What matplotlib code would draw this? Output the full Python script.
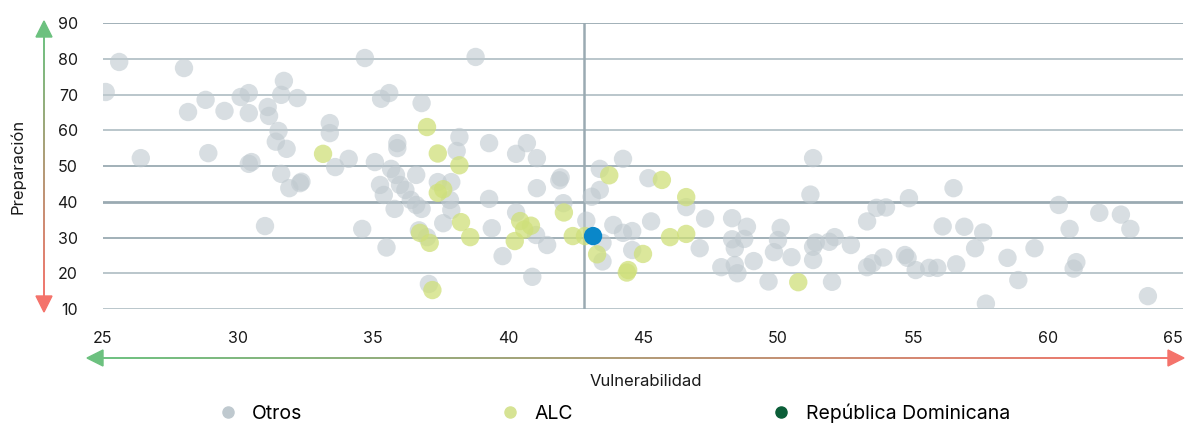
"""Vulnerabilidad vs Preparación scatter, República Dominicana highlighted."""

import numpy as np
from matplotlib import pyplot as plt
from matplotlib.collections import LineCollection
from matplotlib.colors import to_rgb
from matplotlib.lines import Line2D
from matplotlib.patches import Polygon

plt.rcParams['font.family'] = ['Inter', 'DejaVu Sans']

# Otros (resto del mundo)
otros_x = [25.1, 25.6, 26.4, 28.0, 28.15, 28.8, 28.9, 29.5, 30.1, 30.4, 30.4, 30.5, 30.4, 31.0,
           31.1, 31.15, 31.4, 31.5, 31.6, 31.6, 31.7, 31.8, 31.9, 32.2, 32.3, 32.35,
           33.4, 33.4, 33.6, 34.1, 34.6, 34.7, 35.07, 35.26, 35.4, 35.3, 35.5, 35.6, 35.67,
           35.85, 35.8, 35.9, 35.9, 36.0, 36.2, 36.4, 36.6, 36.6, 36.7, 36.8, 36.8, 37.0,
           37.07, 37.4, 37.6, 37.9, 37.85, 37.9, 38.1, 38.2, 38.8, 39.3, 39.3, 39.4, 39.8,
           40.3, 40.3, 40.7, 40.9, 41.04, 41.07, 41.07, 41.45, 41.9, 41.95, 42.05, 42.9,
           43.1, 43.4, 43.4, 43.5, 43.5, 43.9, 44.26, 44.26, 44.6, 44.6, 45.2, 45.3, 46.6,
           47.1, 47.3, 47.9, 48.3, 48.3, 48.4, 48.4, 48.5, 48.85, 48.75, 49.1, 49.65, 49.85,
           50.0, 50.1, 50.5, 51.2, 51.3, 51.3, 51.3, 51.4, 51.9, 52.1, 52.0, 52.7, 53.3,
           53.3, 53.5, 53.65, 53.9, 54.0, 54.7, 54.8, 54.85, 55.1, 55.6, 55.9, 56.1, 56.5,
           56.6, 56.9, 57.3, 57.6, 57.7, 58.5, 58.9, 59.5, 60.4, 60.8, 60.95, 61.05, 61.9,
           62.7, 63.05, 63.7]
otros_y = [70.7, 79.1, 52.2, 77.4, 65.1, 68.5, 53.6, 65.4, 69.3, 70.4, 64.8, 51.1, 50.6, 33.2,
           66.5, 64.0, 56.8, 59.8, 47.8, 69.9, 73.8, 54.8, 43.8, 69.0, 45.2, 45.6,
           62.0, 59.2, 49.7, 52.0, 32.4, 80.2, 51.1, 44.7, 41.9, 68.8, 27.2, 70.4, 49.2,
           47.5, 38.0, 56.4, 55.0, 44.7, 43.3, 40.5, 39.1, 47.5, 32.0, 38.0, 67.6, 30.1,
           17.0, 45.5, 34.0, 45.5, 40.5, 37.7, 54.2, 58.1, 80.5, 56.4, 40.8, 32.6, 24.8,
           53.4, 37.0, 56.4, 19.0, 30.7, 52.2, 43.8, 27.9, 46.0, 46.8, 39.6, 34.7,
           41.4, 43.3, 49.2, 28.5, 23.3, 33.5, 52.0, 31.3, 31.8, 26.5, 46.6, 34.5, 38.5,
           27.0, 35.3, 21.7, 35.4, 29.5, 27.0, 22.3, 20.0, 33.0, 29.6, 23.4, 17.7, 25.9,
           29.3, 32.7, 24.5, 42.0, 52.2, 23.7, 27.4, 28.6, 28.8, 30.1, 17.6, 27.9, 34.5,
           21.7, 22.8, 38.3, 24.4, 38.4, 25.1, 24.3, 41.0, 20.9, 21.5, 21.5, 33.1, 43.8,
           22.5, 33.0, 27.0, 31.4, 11.5, 24.3, 18.1, 27.0, 39.1, 32.4, 21.3, 23.1, 36.9,
           36.4, 32.4, 13.6]

# ALC (América Latina y el Caribe)
alc_x = [33.15, 37.0, 37.4, 38.2, 37.6, 37.4, 38.26, 38.6, 36.74, 37.1, 37.2, 40.45, 40.85,
         40.6, 40.25, 42.07, 42.4, 42.85, 43.3, 43.75, 44.4, 44.45, 45.0, 45.7, 46.0, 46.6,
         46.6, 50.75]
alc_y = [53.4, 60.9, 53.5, 50.2, 43.5, 42.5, 34.3, 30.1, 31.3, 28.5, 15.3, 34.6, 33.3,
         32.2, 29.0, 37.0, 30.4, 30.4, 25.3, 47.4, 20.2, 20.9, 25.4, 46.1, 30.1, 31.0,
         41.3, 17.5]

# República Dominicana
rd_x = [43.15]
rd_y = [30.4]

x_ticks = [25, 30, 35, 40, 45, 50, 55, 60, 65]
y_ticks = [10, 20, 30, 40, 50, 60, 70, 80, 90]
ref_x = 42.8
ref_y = 40

GREY = '#bfc9cf'
LIME = '#cfe07a'
BLUE = '#0a87c9'
DARK_GREEN = '#0b5e38'
GREEN = '#6cc17f'
RED = '#f4736b'

W, H = 1185, 423
fig = plt.figure(figsize=(W / 100, H / 100), dpi=100)
ax = fig.add_axes([103 / W, 1 - 309 / H, 1080 / W, 286 / H])

for yv in y_ticks:
    lw = 2.0 if yv == ref_y else 1.3
    col = '#9aaab2' if yv in (90, 50, 40, 30) else '#b4c1c7'
    ax.axhline(yv, color=col, lw=lw, zorder=1)
ax.axvline(ref_x, color='#9aaab2', lw=1.8, zorder=1)

ax.scatter(otros_x, otros_y, s=175, color=GREY, alpha=0.6, edgecolors='none', zorder=2)
ax.scatter(alc_x, alc_y, s=175, color=LIME, alpha=0.75, edgecolors='none', zorder=3)
ax.scatter(rd_x, rd_y, s=175, color=BLUE, edgecolors='none', zorder=4)

ax.set_xlim(25, 65)
ax.set_ylim(10, 90)
ax.set_xticks(x_ticks)
ax.set_yticks(y_ticks)
ax.tick_params(length=0, labelsize=11.5, colors='#1a1a1a')
ax.tick_params(axis='x', pad=16)
ax.tick_params(axis='y', pad=18)
ax.get_xticklabels()[-1].set_horizontalalignment('right')
for side in ax.spines.values():
    side.set_visible(False)

# overlay in pixel coordinates for the gradient arrows and axis titles
ov = fig.add_axes([0, 0, 1, 1], zorder=-1)
ov.set_xlim(0, W)
ov.set_ylim(H, 0)
ov.axis('off')


def gradient_line(x0, y0, x1, y1, c0, c1, n=200):
    xs = np.linspace(x0, x1, n)
    ys = np.linspace(y0, y1, n)
    pts = np.column_stack([xs, ys]).reshape(-1, 1, 2)
    segs = np.concatenate([pts[:-1], pts[1:]], axis=1)
    a, b = np.array(to_rgb(c0)), np.array(to_rgb(c1))
    t = np.linspace(0, 1, n - 1)[:, None]
    cols = a + (b - a) * t
    ov.add_collection(LineCollection(segs, colors=cols, linewidths=1.4))


# vertical arrow (Preparación)
gradient_line(44, 34, 44, 298, GREEN, RED)
ov.add_patch(Polygon([[36, 37], [52, 37], [44, 21]], closed=True, color=GREEN))
ov.add_patch(Polygon([[36, 296], [52, 296], [44, 312]], closed=True, color=RED))
# horizontal arrow (Vulnerabilidad)
gradient_line(100, 358, 1170, 358, GREEN, RED)
ov.add_patch(Polygon([[103, 350], [103, 366], [87, 358]], closed=True, color=GREEN))
ov.add_patch(Polygon([[1168, 350], [1168, 366], [1184, 358]], closed=True, color=RED))

ov.text(18, 166, 'Preparación', rotation=90, ha='center', va='center', fontsize=12, color='#1a1a1a')
ov.text(646, 382, 'Vulnerabilidad', ha='center', va='center', fontsize=12, color='#1a1a1a')

handles = [
    Line2D([], [], marker='o', ls='none', color=GREY, markersize=8),
    Line2D([], [], marker='o', ls='none', color='#d6e394', markersize=8),
    Line2D([], [], marker='o', ls='none', color=DARK_GREEN, markersize=8),
]
fig.legend(handles, ['Otros', 'ALC', 'República Dominicana'], loc='center',
           bbox_to_anchor=(0.514, 1 - 413 / H), ncol=3, frameon=False, fontsize=14,
           handletextpad=0.25, columnspacing=9.7, borderaxespad=0)

fig.savefig('out.png', dpi=100)
